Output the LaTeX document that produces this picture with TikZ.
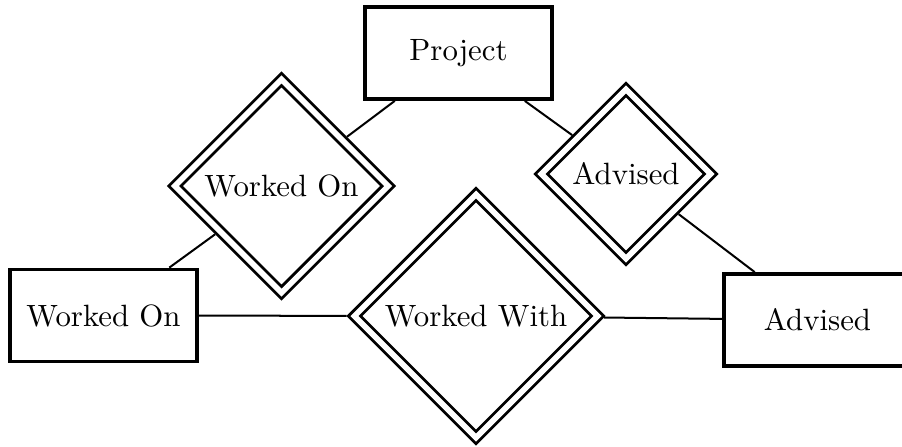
\documentclass[tikz,border=0pt]{standalone}
\usetikzlibrary{shapes.geometric}
\begin{document}
\begin{tikzpicture}[x=0.3247pt,y=-0.3247pt,
  entity/.style={draw,rectangle,line width=1.2pt,minimum width=60.7pt,minimum height=29.9pt,inner sep=0pt},
  relation/.style={draw,diamond,aspect=1,line width=0.95pt,double,double distance=1.8pt,inner sep=0pt,outer sep=1.85pt},
  link/.style={line width=0.65pt}]
\useasboundingbox (0,0) rectangle (902,446);
% entity sets
\node[entity] (proj) at (458.5,53) {Project};
\node[entity] (wobox) at (103.5,315.5) {Worked On};
\node[entity] (advbox) at (817.5,320) {Advised};
% relationship sets
\node[relation,minimum width=70.8pt,minimum height=70.8pt] (wod) at (281.5,186) {Worked On};
\node[relation,minimum width=56.5pt,minimum height=56.5pt] (advd) at (626,174) {Advised};
\node[relation,minimum width=80.5pt,minimum height=80.5pt] (wwd) at (476,316) {Worked With};
% connectors
\draw[link] (proj) -- (wod);
\draw[link] (proj) -- (advd);
\draw[link] (wod) -- (wobox);
\draw[link] (advd) -- (advbox);
\draw[link] (wobox) -- (wwd);
\draw[link] (wwd) -- (advbox);
\end{tikzpicture}
\end{document}
